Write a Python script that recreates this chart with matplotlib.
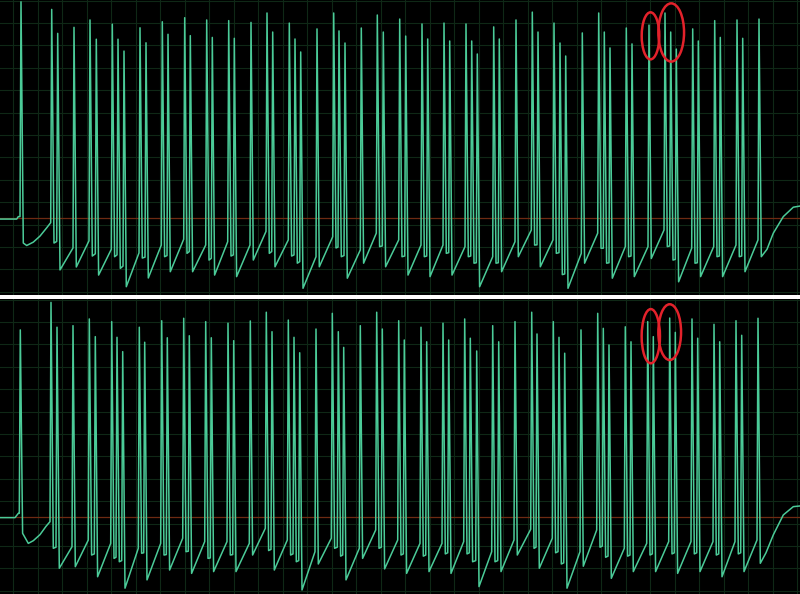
import numpy as np
import matplotlib.pyplot as plt
from matplotlib.patches import Ellipse

# ---- top trace (mV vs ms) ----
lead_t1 = [0, 16.7, 18.3]
lead_v1 = [-47.5, -47.5, -46.4]
curve_t1 = [26.7, 33.3, 40, 46.7]
curve_v1 = [-59.3, -57.8, -55.1, -51.4]
tail_t1 = [767, 773.3, 783.3, 793.3, 800]
tail_v1 = [-61.0, -53.8, -46.4, -42.2, -41.7]

spike_t1 = [21, 51.7, 57.7, 74, 90, 96.3, 112.3, 118, 124, 140, 146, 162.3, 168,
            184.7, 190.3, 206.7, 212.3, 228.7, 234.3, 251, 267, 272.7, 289.3, 295,
            300.7, 317, 333.7, 339, 345, 361.3, 377.3, 383.3, 399.7, 405.7, 422,
            427.7, 444, 449.7, 466, 471.7, 477.3, 493.7, 499.3, 516, 532.3, 538,
            554, 560, 565.7, 582.3, 598.7, 604.3, 610, 626.3, 632, 649, 665, 670.7,
            676.3, 692.7, 698.3, 714.7, 720.3, 737, 742.7, 759]
peak1 = [49.5, 46.1, 35.4, 38.1, 41.4, 32.8, 39.5, 32.8, 27.5, 37.9, 31.2, 40.6, 35.0,
         42.4, 34.4, 41.4, 33.6, 41.1, 33.2, 40.3, 44.5, 36.0, 40.0, 32.9,
         27.1, 37.4, 44.5, 36.5, 31.1, 37.8, 43.6, 36.0, 41.8, 34.2, 39.6,
         32.9, 40.0, 32.0, 39.6, 32.0, 26.2, 38.3, 32.9, 41.4, 44.9, 36.0,
         40.0, 31.1, 25.3, 35.6, 44.5, 36.0, 28.9, 37.8, 30.7, 39.1, 44.5, 36.0,
         28.4, 37.4, 32.0, 41.1, 33.6, 41.4, 33.2, 41.8]
onset1 = [-46.4, -49.1, -57.5, -60.4, -57.2, -63.0, -61.0, -63.5, -68.5, -62.6, -64.5, -59.1, -63.8,
          -56.5, -62.0, -59.1, -65.0, -57.6, -63.5, -59.1, -53.0, -62.0, -56.8, -63.5,
          -66.5, -64.3, -55.4, -60.0, -63.8, -61.3, -53.8, -59.5, -56.8, -64.0, -59.1,
          -64.0, -59.1, -62.5, -59.8, -64.0, -67.0, -64.3, -67.0, -57.6, -52.4, -59.0,
          -56.8, -62.5, -72.0, -62.8, -53.8, -60.5, -67.0, -59.8, -64.0, -59.8, -52.4, -59.5,
          -65.5, -60.5, -67.0, -59.8, -64.0, -59.1, -64.0, -56.8]
trough1 = [-58.2, -58.2, -70.2, -68.9, -64.0, -72.5, -64.3, -69.5, -77.7, -64.9, -73.8, -64.3, -71.0,
           -62.8, -71.0, -65.8, -72.5, -64.0, -73.2, -65.8, -62.8, -68.8, -64.0, -67.2,
           -78.4, -68.8, -60.4, -64.3, -73.9, -67.2, -59.8, -68.8, -64.3, -72.5, -64.3,
           -73.2, -62.8, -72.5, -64.3, -67.2, -77.7, -67.2, -71.0, -64.3, -59.1, -68.8,
           -62.8, -72.3, -78.4, -67.2, -60.5, -67.2, -73.9, -64.3, -73.2, -65.1, -59.8, -65.8,
           -75.5, -67.2, -73.2, -64.3, -73.2, -64.3, -71.0, -64.3]

# ---- bottom trace ----
lead_t2 = [0, 15, 18.3]
lead_v2 = [-47.3, -47.3, -45.4]
curve_t2 = [28.3, 33.3, 40, 46]
curve_v2 = [-58.8, -57.6, -54.9, -51.2]
tail_t2 = [766, 773.3, 783.3, 793.3, 800]
tail_v2 = [-63.0, -55.0, -46.1, -42.4, -42.1]

spike_t2 = [20.3, 51, 57, 73, 89.3, 95.3, 111.7, 117, 122.7, 139.3, 144.7, 161.7, 167.3,
            183.7, 189.3, 205.7, 211.3, 228, 233.7, 250.3, 266.3, 272, 288.3, 294,
            299.7, 316, 332.3, 338.3, 343.7, 360.3, 376.7, 382.3, 398.7, 404.3, 421,
            426.7, 443, 448.7, 464.7, 470.3, 476.7, 492.7, 498.7, 515, 531.7, 537,
            553.3, 559, 564.7, 581, 597.7, 603.3, 609, 625.3, 631, 647.7, 653.3, 669.7,
            675.3, 692, 697.7, 714, 719.7, 736, 741.7, 758]
peak2 = [36.5, 48.8, 37.7, 38.4, 41.4, 33.5, 40.2, 33.2, 26.8, 37.7, 31.0, 40.6, 33.0,
         41.7, 33.9, 40.2, 33.0, 39.5, 31.7, 40.5, 44.4, 35.7, 40.9, 33.2,
         26.3, 36.9, 43.9, 35.7, 28.7, 38.4, 44.4, 36.9, 40.6, 32.0, 37.7,
         31.2, 39.5, 32.0, 41.4, 32.8, 27.1, 38.4, 31.2, 40.2, 44.4, 34.7,
         40.2, 33.2, 26.1, 36.5, 43.9, 37.2, 29.8, 37.9, 31.2, 40.2, 33.5, 41.8,
         35.4, 41.4, 32.8, 39.0, 31.2, 40.6, 34.1, 41.7]
onset2 = [-45.4, -49.1, -60.5, -60.3, -57.3, -63.5, -58.8, -65.0, -66.5, -61.0, -63.0, -58.8, -63.8,
          -56.5, -62.3, -58.0, -65.3, -58.0, -63.8, -58.8, -52.1, -61.5, -57.3, -63.5,
          -66.5, -62.5, -56.5, -60.5, -64.0, -61.0, -52.8, -60.5, -57.3, -63.5, -58.8,
          -64.0, -58.8, -63.0, -58.0, -63.0, -66.5, -62.5, -66.5, -57.3, -52.5, -60.5,
          -56.5, -62.5, -67.5, -62.5, -52.8, -60.0, -64.5, -61.0, -64.0, -58.8, -63.5, -58.0,
          -63.0, -58.0, -63.0, -58.0, -63.5, -58.0, -63.0, -57.3]
trough2 = [-54.3, -61.0, -69.9, -69.2, -64.0, -73.7, -65.5, -67.0, -78.8, -63.2, -75.1, -64.0, -70.7,
           -62.5, -72.2, -65.5, -71.4, -64.0, -71.4, -64.0, -62.0, -70.7, -64.0, -67.0,
           -79.6, -68.0, -61.0, -64.5, -75.1, -65.5, -61.0, -70.2, -64.0, -72.2, -64.5,
           -71.4, -63.5, -72.2, -63.5, -67.0, -78.1, -67.0, -71.4, -64.0, -61.0, -69.9,
           -63.0, -68.0, -78.8, -69.0, -60.5, -65.0, -74.4, -64.5, -71.4, -64.0, -71.4, -63.5,
           -72.2, -63.5, -71.4, -64.0, -73.7, -63.5, -71.4, -67.7]

# marked spikes: (centre t, centre mV, width ms, height mV)
marks1 = [(650.5, 34.3, 17.6, 21.0), (671.2, 35.8, 25.7, 26.0)]
marks2 = [(650.8, 33.7, 18.3, 24.2), (669.7, 35.5, 22.7, 24.9)]

ref_level = -47.1


def build_trace(lead_t, lead_v, curve_t, curve_v, tail_t, tail_v, st, pk, on, tr):
    pts = list(zip(lead_t, lead_v)) + list(zip(curve_t, curve_v)) + list(zip(tail_t, tail_v))
    for t, p, o, m in zip(st, pk, on, tr):
        pts += [(t - 1.0, o), (t, p), (t + 2.3, m)]
    pts.sort()
    return np.array(pts).T


fig = plt.figure(figsize=(8, 5.94), dpi=100, facecolor='white')
ax1 = fig.add_axes([0, 299 / 594, 1, 295 / 594])
ax2 = fig.add_axes([0, 0, 1, 295 / 594])

traces = [
    (ax1, build_trace(lead_t1, lead_v1, curve_t1, curve_v1, tail_t1, tail_v1,
                      spike_t1, peak1, onset1, trough1), marks1),
    (ax2, build_trace(lead_t2, lead_v2, curve_t2, curve_v2, tail_t2, tail_v2,
                      spike_t2, peak2, onset2, trough2), marks2),
]

for ax, (tt, vv), marks in traces:
    ax.set_facecolor('black')
    ax.set_xlim(0, 800)
    ax.set_ylim(-81.4, 50.3)
    for gx in np.arange(13, 800, 24.5):
        ax.axvline(gx, color='#0f2816', lw=0.8, zorder=1)
    for gy in np.arange(-80, 51, 10):
        ax.axhline(gy, color='#0f2816', lw=0.8, zorder=1)
    ax.axhline(ref_level, color='#6e2a12', lw=0.9, zorder=2)
    ax.plot(tt, vv, color='#4bcb98', lw=1.1, zorder=3)
    for cx, cy, w, h in marks:
        ax.add_patch(Ellipse((cx, cy), w, h, fill=False, edgecolor='#e3222b', lw=1.8, zorder=4))
    ax.set_xticks([])
    ax.set_yticks([])
    for s in ax.spines.values():
        s.set_visible(False)

fig.savefig('out.png', dpi=100, facecolor='white')
